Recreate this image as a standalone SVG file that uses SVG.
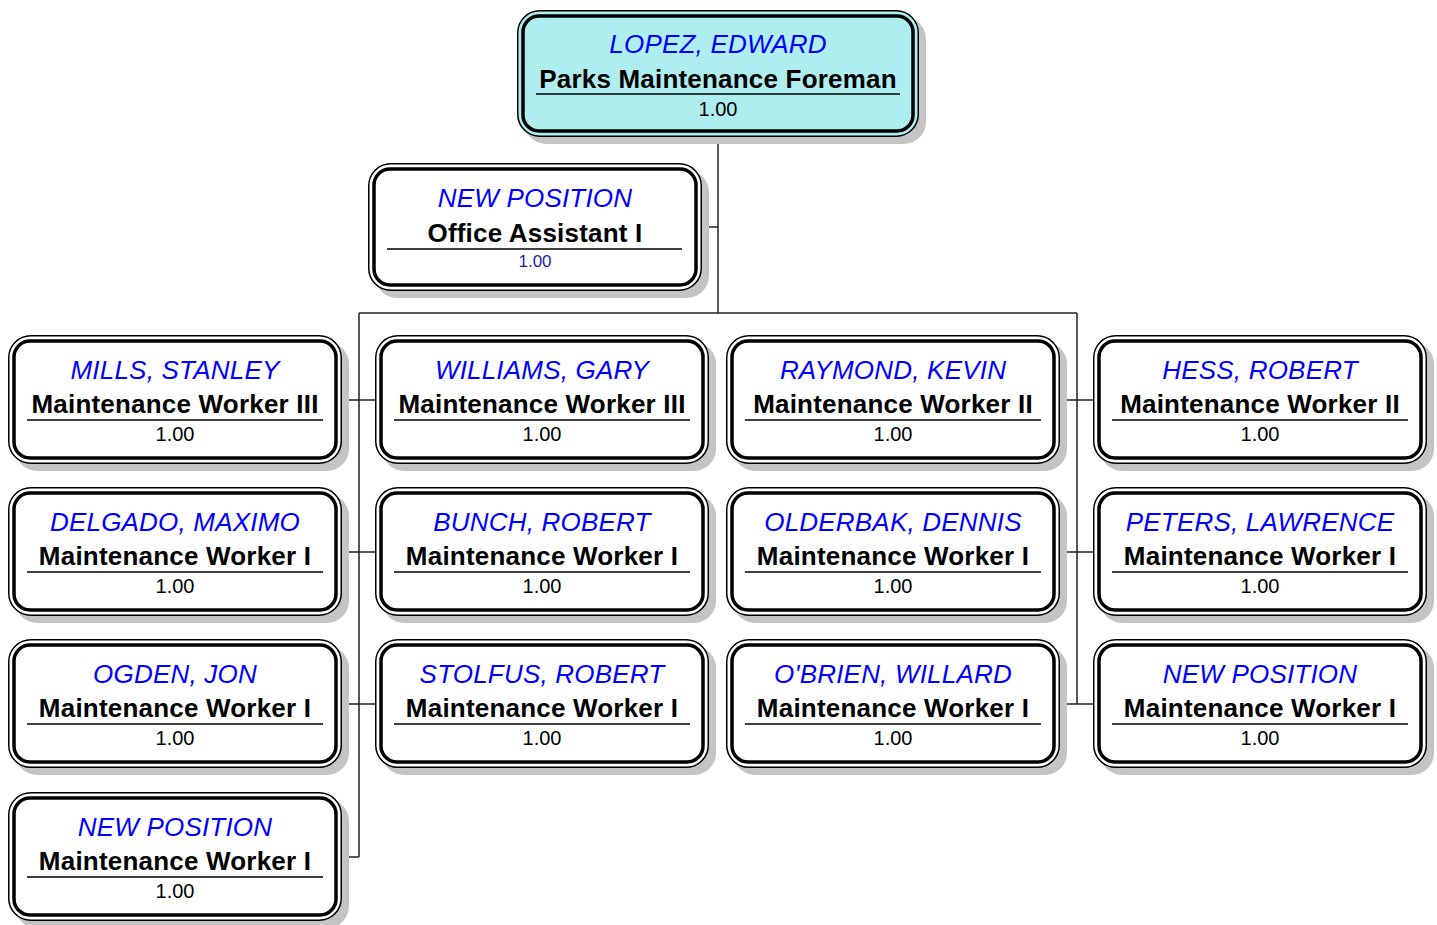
<svg xmlns="http://www.w3.org/2000/svg" width="1437" height="925" viewBox="0 0 1437 925">
  <style>
    .shadow { fill: #c4c4c4; }
    .outer { fill: #ffffff; stroke: #000000; stroke-width: 1.5; }
    .outer.head { fill: #aeeeee; }
    .inner { fill: none; stroke: #000000; stroke-width: 3.5; }
    .name { font-family: "Liberation Sans", Arial, sans-serif; font-style: italic; font-size: 26px; fill: #0000ff; text-anchor: middle; letter-spacing: 0.2px; }
    .title { font-family: "Liberation Sans", Arial, sans-serif; font-weight: bold; font-size: 26px; fill: #000000; text-anchor: middle; letter-spacing: 0.2px; }
    .fte { font-family: "Liberation Sans", Arial, sans-serif; font-size: 20px; fill: #000000; text-anchor: middle; }
    .fte.vac { font-size: 17px; fill: #1c1ca8; }
    .rule { stroke: #000000; stroke-width: 1.5; }
    .conn { stroke: #222222; stroke-width: 1.5; fill: none; }
  </style>

  <!-- connectors -->
  <g id="connectors">
    <path class="conn" d="M718,137 V313"/>
    <path class="conn" d="M702,227 H718"/>
    <path class="conn" d="M359,313 H1077"/>
    <path class="conn" d="M359,313 V857"/>
    <path class="conn" d="M1077,313 V704"/>
    <path class="conn" d="M342,400 H375"/>
    <path class="conn" d="M342,552 H375"/>
    <path class="conn" d="M342,704 H375"/>
    <path class="conn" d="M342,857 H359"/>
    <path class="conn" d="M1060,400 H1093"/>
    <path class="conn" d="M1060,552 H1093"/>
    <path class="conn" d="M1060,704 H1093"/>
  </g>

  <!-- head of section -->
  <g id="lopez" transform="translate(517,10)">
    <rect class="shadow" x="7" y="7" width="402" height="127" rx="22"/>
    <rect class="outer head" x="0.75" y="0.75" width="400.5" height="125.5" rx="22"/>
    <rect class="inner" x="6" y="6" width="390" height="115" rx="16"/>
    <text class="name" x="201" y="43">LOPEZ, EDWARD</text>
    <text class="title" x="201" y="78">Parks Maintenance Foreman</text>
    <line class="rule" x1="19" y1="84" x2="383" y2="84"/>
    <text class="fte" x="201" y="106">1.00</text>
  </g>

  <g id="office-assistant" transform="translate(368,163)">
    <rect class="shadow" x="7" y="7" width="334" height="128" rx="22"/>
    <rect class="outer" x="0.75" y="0.75" width="332.5" height="126.5" rx="22"/>
    <rect class="inner" x="6" y="6" width="322" height="116" rx="16"/>
    <text class="name" x="167" y="44">NEW POSITION</text>
    <text class="title" x="167" y="79">Office Assistant I</text>
    <line class="rule" x1="19" y1="86" x2="314" y2="86"/>
    <text class="fte vac" x="167" y="104">1.00</text>
  </g>

  <!-- column 1 -->
  <g id="mills" transform="translate(8,335)">
    <rect class="shadow" x="7" y="7" width="334" height="129" rx="22"/>
    <rect class="outer" x="0.75" y="0.75" width="332.5" height="127.5" rx="22"/>
    <rect class="inner" x="6" y="6" width="322" height="117" rx="16"/>
    <text class="name" x="167" y="44">MILLS, STANLEY</text>
    <text class="title" x="167" y="78">Maintenance Worker III</text>
    <line class="rule" x1="19" y1="85" x2="315" y2="85"/>
    <text class="fte" x="167" y="106">1.00</text>
  </g>
  <g id="delgado" transform="translate(8,487)">
    <rect class="shadow" x="7" y="7" width="334" height="129" rx="22"/>
    <rect class="outer" x="0.75" y="0.75" width="332.5" height="127.5" rx="22"/>
    <rect class="inner" x="6" y="6" width="322" height="117" rx="16"/>
    <text class="name" x="167" y="44">DELGADO, MAXIMO</text>
    <text class="title" x="167" y="78">Maintenance Worker I</text>
    <line class="rule" x1="19" y1="85" x2="315" y2="85"/>
    <text class="fte" x="167" y="106">1.00</text>
  </g>
  <g id="ogden" transform="translate(8,639)">
    <rect class="shadow" x="7" y="7" width="334" height="129" rx="22"/>
    <rect class="outer" x="0.75" y="0.75" width="332.5" height="127.5" rx="22"/>
    <rect class="inner" x="6" y="6" width="322" height="117" rx="16"/>
    <text class="name" x="167" y="44">OGDEN, JON</text>
    <text class="title" x="167" y="78">Maintenance Worker I</text>
    <line class="rule" x1="19" y1="85" x2="315" y2="85"/>
    <text class="fte" x="167" y="106">1.00</text>
  </g>
  <g id="new-mw-1" transform="translate(8,792)">
    <rect class="shadow" x="7" y="7" width="334" height="129" rx="22"/>
    <rect class="outer" x="0.75" y="0.75" width="332.5" height="127.5" rx="22"/>
    <rect class="inner" x="6" y="6" width="322" height="117" rx="16"/>
    <text class="name" x="167" y="44">NEW POSITION</text>
    <text class="title" x="167" y="78">Maintenance Worker I</text>
    <line class="rule" x1="19" y1="85" x2="315" y2="85"/>
    <text class="fte" x="167" y="106">1.00</text>
  </g>

  <!-- column 2 -->
  <g id="williams" transform="translate(375,335)">
    <rect class="shadow" x="7" y="7" width="334" height="129" rx="22"/>
    <rect class="outer" x="0.75" y="0.75" width="332.5" height="127.5" rx="22"/>
    <rect class="inner" x="6" y="6" width="322" height="117" rx="16"/>
    <text class="name" x="167" y="44">WILLIAMS, GARY</text>
    <text class="title" x="167" y="78">Maintenance Worker III</text>
    <line class="rule" x1="19" y1="85" x2="315" y2="85"/>
    <text class="fte" x="167" y="106">1.00</text>
  </g>
  <g id="bunch" transform="translate(375,487)">
    <rect class="shadow" x="7" y="7" width="334" height="129" rx="22"/>
    <rect class="outer" x="0.75" y="0.75" width="332.5" height="127.5" rx="22"/>
    <rect class="inner" x="6" y="6" width="322" height="117" rx="16"/>
    <text class="name" x="167" y="44">BUNCH, ROBERT</text>
    <text class="title" x="167" y="78">Maintenance Worker I</text>
    <line class="rule" x1="19" y1="85" x2="315" y2="85"/>
    <text class="fte" x="167" y="106">1.00</text>
  </g>
  <g id="stolfus" transform="translate(375,639)">
    <rect class="shadow" x="7" y="7" width="334" height="129" rx="22"/>
    <rect class="outer" x="0.75" y="0.75" width="332.5" height="127.5" rx="22"/>
    <rect class="inner" x="6" y="6" width="322" height="117" rx="16"/>
    <text class="name" x="167" y="44">STOLFUS, ROBERT</text>
    <text class="title" x="167" y="78">Maintenance Worker I</text>
    <line class="rule" x1="19" y1="85" x2="315" y2="85"/>
    <text class="fte" x="167" y="106">1.00</text>
  </g>

  <!-- column 3 -->
  <g id="raymond" transform="translate(726,335)">
    <rect class="shadow" x="7" y="7" width="334" height="129" rx="22"/>
    <rect class="outer" x="0.75" y="0.75" width="332.5" height="127.5" rx="22"/>
    <rect class="inner" x="6" y="6" width="322" height="117" rx="16"/>
    <text class="name" x="167" y="44">RAYMOND, KEVIN</text>
    <text class="title" x="167" y="78">Maintenance Worker II</text>
    <line class="rule" x1="19" y1="85" x2="315" y2="85"/>
    <text class="fte" x="167" y="106">1.00</text>
  </g>
  <g id="olderbak" transform="translate(726,487)">
    <rect class="shadow" x="7" y="7" width="334" height="129" rx="22"/>
    <rect class="outer" x="0.75" y="0.75" width="332.5" height="127.5" rx="22"/>
    <rect class="inner" x="6" y="6" width="322" height="117" rx="16"/>
    <text class="name" x="167" y="44">OLDERBAK, DENNIS</text>
    <text class="title" x="167" y="78">Maintenance Worker I</text>
    <line class="rule" x1="19" y1="85" x2="315" y2="85"/>
    <text class="fte" x="167" y="106">1.00</text>
  </g>
  <g id="obrien" transform="translate(726,639)">
    <rect class="shadow" x="7" y="7" width="334" height="129" rx="22"/>
    <rect class="outer" x="0.75" y="0.75" width="332.5" height="127.5" rx="22"/>
    <rect class="inner" x="6" y="6" width="322" height="117" rx="16"/>
    <text class="name" x="167" y="44">O'BRIEN, WILLARD</text>
    <text class="title" x="167" y="78">Maintenance Worker I</text>
    <line class="rule" x1="19" y1="85" x2="315" y2="85"/>
    <text class="fte" x="167" y="106">1.00</text>
  </g>

  <!-- column 4 -->
  <g id="hess" transform="translate(1093,335)">
    <rect class="shadow" x="7" y="7" width="334" height="129" rx="22"/>
    <rect class="outer" x="0.75" y="0.75" width="332.5" height="127.5" rx="22"/>
    <rect class="inner" x="6" y="6" width="322" height="117" rx="16"/>
    <text class="name" x="167" y="44">HESS, ROBERT</text>
    <text class="title" x="167" y="78">Maintenance Worker II</text>
    <line class="rule" x1="19" y1="85" x2="315" y2="85"/>
    <text class="fte" x="167" y="106">1.00</text>
  </g>
  <g id="peters" transform="translate(1093,487)">
    <rect class="shadow" x="7" y="7" width="334" height="129" rx="22"/>
    <rect class="outer" x="0.75" y="0.75" width="332.5" height="127.5" rx="22"/>
    <rect class="inner" x="6" y="6" width="322" height="117" rx="16"/>
    <text class="name" x="167" y="44">PETERS, LAWRENCE</text>
    <text class="title" x="167" y="78">Maintenance Worker I</text>
    <line class="rule" x1="19" y1="85" x2="315" y2="85"/>
    <text class="fte" x="167" y="106">1.00</text>
  </g>
  <g id="new-mw-2" transform="translate(1093,639)">
    <rect class="shadow" x="7" y="7" width="334" height="129" rx="22"/>
    <rect class="outer" x="0.75" y="0.75" width="332.5" height="127.5" rx="22"/>
    <rect class="inner" x="6" y="6" width="322" height="117" rx="16"/>
    <text class="name" x="167" y="44">NEW POSITION</text>
    <text class="title" x="167" y="78">Maintenance Worker I</text>
    <line class="rule" x1="19" y1="85" x2="315" y2="85"/>
    <text class="fte" x="167" y="106">1.00</text>
  </g>
</svg>
